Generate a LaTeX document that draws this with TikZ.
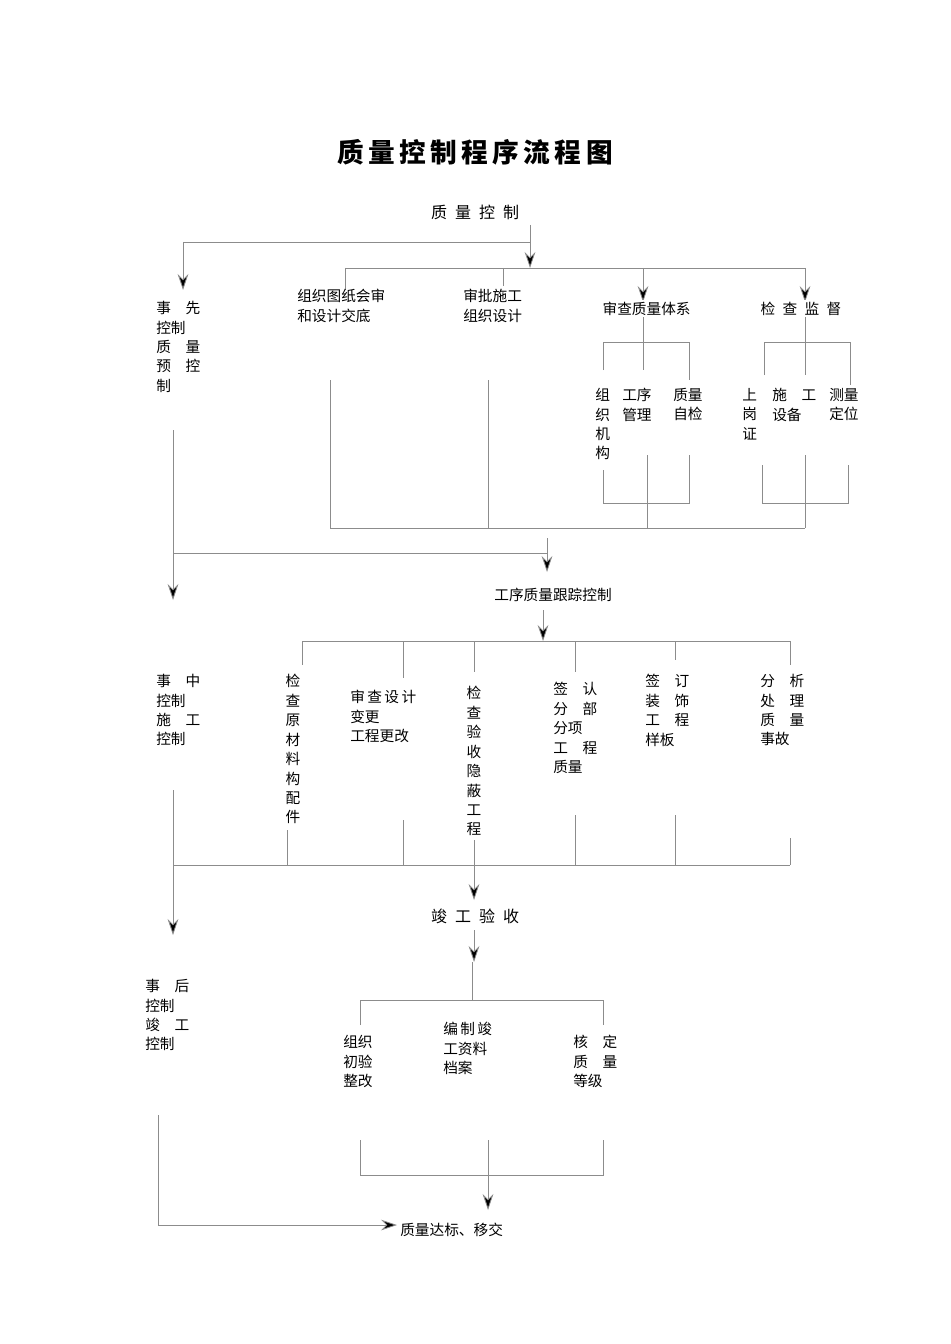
\documentclass[tikz,border=0pt]{standalone}
\usepackage{fontspec}
\setmainfont{Noto Sans CJK SC}
\usetikzlibrary{arrows.meta}
\begin{document}
\begin{tikzpicture}[x=0.75pt,y=-0.75pt,
  ln/.style={draw=black!45,line width=0.6pt},
  ar/.style={ln,-{Stealth[length=12pt,width=8pt,inset=4pt,fill=black]}},
  tx/.style={inner sep=0pt,font=\fontsize{11pt}{14.6pt}\selectfont,align=left,anchor=north west},
  vt/.style={tx,font=\fontsize{11pt}{14.6pt}\selectfont,align=center,anchor=north}]
\useasboundingbox (0,0) rectangle (950,1344);
\node[font=\bfseries\fontsize{20pt}{24pt}\selectfont] (title) at (475,152) {质\,量\,控\,制\,程\,序\,流\,程\,图};
\node[font=\fontsize{12pt}{14pt}\selectfont] (qc) at (475,212) {质\enspace 量\enspace 控\enspace 制};
% top branch
\coordinate (a1) at (530,242);
\draw[ln] (530,225) -- (a1) -- (183,242);
\draw[ar] (183,242) -- (183,290);
\draw[ar] (530,242) -- (530,268);
\draw[ln] (345,268) -- (805,268);
\draw[ln] (345,268) -- (345,290);
\draw[ln] (503,268) -- (503,286);
\draw[ar] (643,268) -- (643,302);
\draw[ln] (643,302) -- (643,342);
\draw[ar] (805,268) -- (805,302);
\draw[ln] (805,302) -- (805,342);
\node[tx] (pre) at (156,301) {事\quad 先\\控制\\质\quad 量\\预\quad 控\\制};
\node[tx] (tuzhi) at (297,289) {组织图纸会审\\和设计交底};
\node[tx] (shenpi) at (463,289) {审批施工\\组织设计};
\node[tx,fill=white,inner sep=1pt] (tixi) at (601,300) {审查质量体系};
\node[tx,fill=white,inner sep=1pt] (jiandu) at (759,300) {检\enspace 查\enspace 监\enspace 督};
% sub brackets
\draw[ln] (603,370) -- (603,342) -- (689,342) -- (689,380);
\draw[ln] (643,342) -- (643,370);
\draw[ln] (764,375) -- (764,342) -- (850,342) -- (850,385);
\draw[ln] (805,342) -- (805,375);
\node[tx] (zz) at (595,388) {组\\织\\机\\构};
\node[tx] (gx) at (622,388) {工序\\管理};
\node[tx] (zj) at (673,388) {质量\\自检};
\node[tx] (sg) at (742,388) {上\\岗\\证};
\node[tx] (sb) at (772,388) {施\quad 工\\设备};
\node[tx] (cl) at (829,388) {测量\\定位};
\draw[ln] (603,470) -- (603,503) -- (689,503) -- (689,455);
\draw[ln] (647,455) -- (647,528);
\draw[ln] (762,465) -- (762,503) -- (848,503) -- (848,465);
\draw[ln] (805,455) -- (805,528);
\draw[ln] (330,380) -- (330,528) -- (805,528);
\draw[ln] (488,380) -- (488,528);
\draw[ar] (547,538) -- (547,572);
\draw[ln] (173,553) -- (547,553);
\draw[ar] (173,430) -- (173,600);
% middle
\node[font=\fontsize{11pt}{14pt}\selectfont] (gxzl) at (553,595) {工序质量跟踪控制};
\draw[ar] (543,610) -- (543,641);
\draw[ln] (302,641) -- (790,641);
\foreach \x/\y in {302/665,403/678,474/672,575/672,675/660,790/665} \draw[ln] (\x,641) -- (\x,\y);
\node[tx] (mid) at (156,674) {事\quad 中\\控制\\施\quad 工\\控制};
\node[vt] (ycl) at (293,674) {检\\查\\原\\材\\料\\构\\配\\件};
\node[tx] (bg) at (350,690) {审\,查\,设\,计\\变更\\工程更改};
\node[vt] (yb) at (474,686) {检\\查\\验\\收\\隐\\蔽\\工\\程};
\node[tx] (fb) at (553,682) {签\quad 认\\分\quad 部\\分项\\工\quad 程\\质量};
\node[tx] (yb2) at (645,674) {签\quad 订\\装\quad 饰\\工\quad 程\\样板};
\node[tx] (sg2) at (760,674) {分\quad 析\\处\quad 理\\质\quad 量\\事故};
\foreach \x/\y in {287/830,403/820,575/815,675/815,790/838} \draw[ln] (\x,\y) -- (\x,865);
\draw[ln] (173,865) -- (790,865);
\draw[ln] (474,840) -- (474,865);
\draw[ar] (474,865) -- (474,900);
\draw[ar] (173,790) -- (173,935);
% bottom
\node[font=\fontsize{12pt}{14pt}\selectfont] (jg) at (475,916) {竣\enspace 工\enspace 验\enspace 收};
\draw[ar] (474,930) -- (474,962);
\draw[ln] (472,962) -- (472,1000);
\draw[ln] (360,1025) -- (360,1000) -- (603,1000) -- (603,1025);
\node[tx] (post) at (145,979) {事\quad 后\\控制\\竣\quad 工\\控制};
\node[tx] (cy) at (343,1035) {组织\\初验\\整改};
\node[tx] (da) at (443,1022) {编\,制\,竣\\工资料\\档案};
\node[tx] (dj) at (573,1035) {核\quad 定\\质\quad 量\\等级};
\draw[ln] (360,1140) -- (360,1175) -- (603,1175) -- (603,1140);
\draw[ln] (488,1140) -- (488,1175);
\draw[ar] (488,1175) -- (488,1210);
\node[tx,anchor=west] (end) at (400,1230) {质量达标、移交};
\draw[ln] (158,1115) -- (158,1225);
\draw[ar] (158,1225) -- (397,1225);
\end{tikzpicture}
\end{document}
